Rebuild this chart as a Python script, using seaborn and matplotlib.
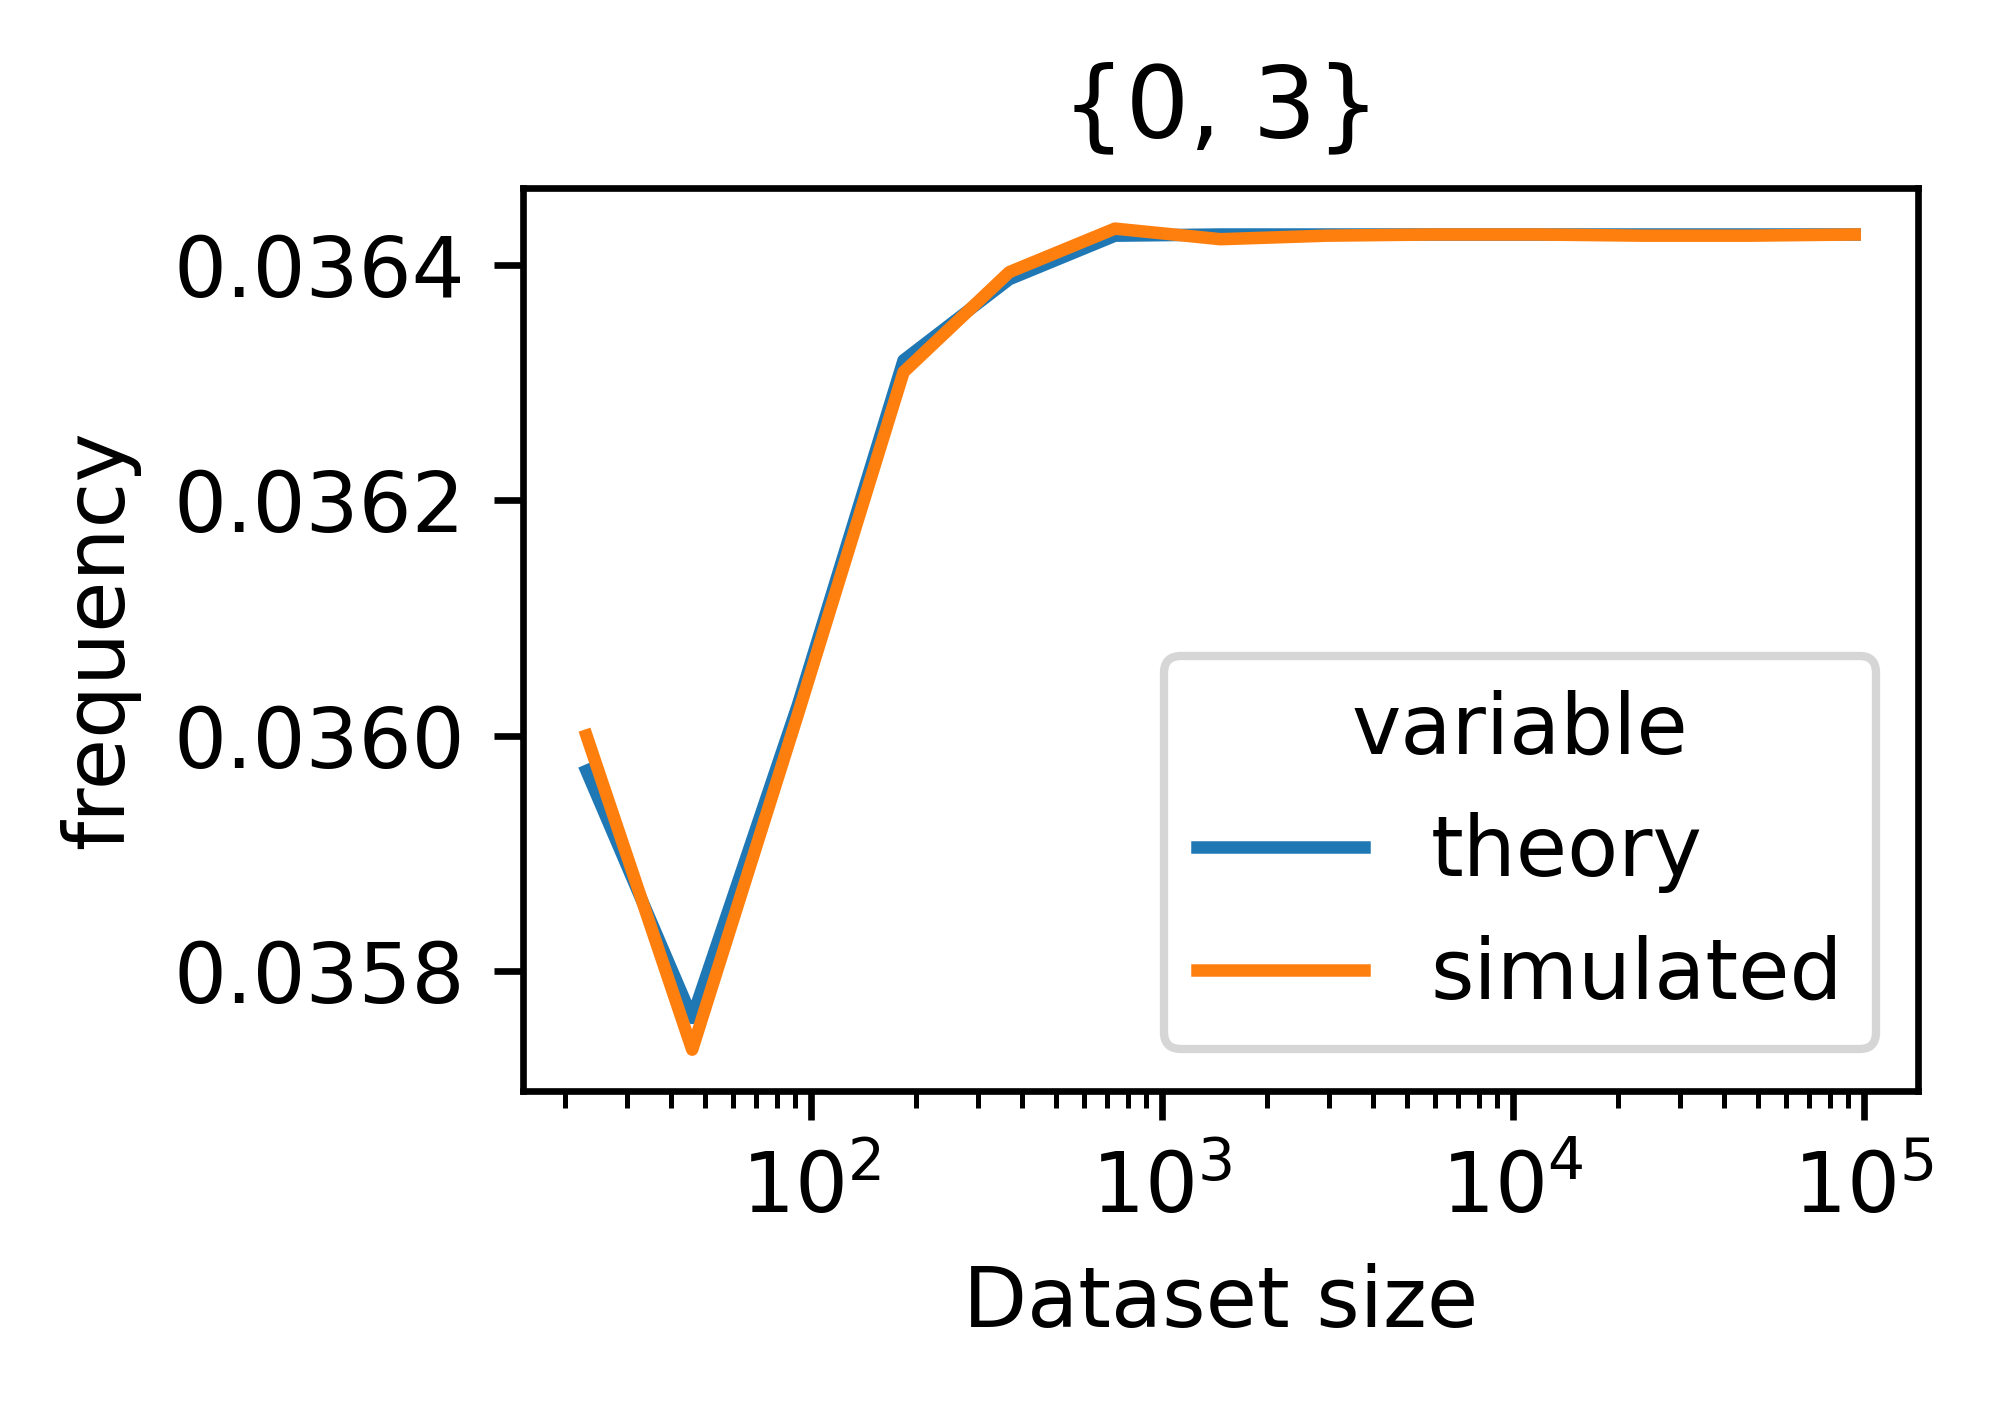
import numpy as np
import pandas as pd
import matplotlib
matplotlib.use('Agg')
import matplotlib.pyplot as plt
import seaborn as sns

# dataset sizes (doubling) and the two frequency curves
dataset_size = [23, 46, 92, 184, 368, 736, 1472, 2944, 5888, 11776, 23552, 47104, 94208]
theory = [0.035970, 0.035760, 0.036026, 0.036319, 0.036388, 0.036425, 0.036426,
          0.036426, 0.036426, 0.036426, 0.036426, 0.036426, 0.036426]
simulated = [0.036000, 0.035733, 0.036018, 0.036309, 0.036394, 0.036431, 0.036422,
             0.036425, 0.036426, 0.036426, 0.036425, 0.036425, 0.036426]
title = '{0, 3}'

df = pd.DataFrame({'Dataset size': dataset_size, 'theory': theory, 'simulated': simulated})
df_long = df.melt(id_vars='Dataset size', value_vars=['theory', 'simulated'],
                  var_name='variable', value_name='frequency')

fig = plt.figure(figsize=(1992 / 600, 1405 / 600), dpi=600)
ax = fig.add_axes([0.2626, 0.2237, 0.7003, 0.6428])

sns.lineplot(data=df_long, x='Dataset size', y='frequency', hue='variable', ax=ax)
ax.set_xscale('log')
ax.set_title(title)
ax.legend(title='variable', loc='lower right')

fig.savefig('out.png', dpi=600)
